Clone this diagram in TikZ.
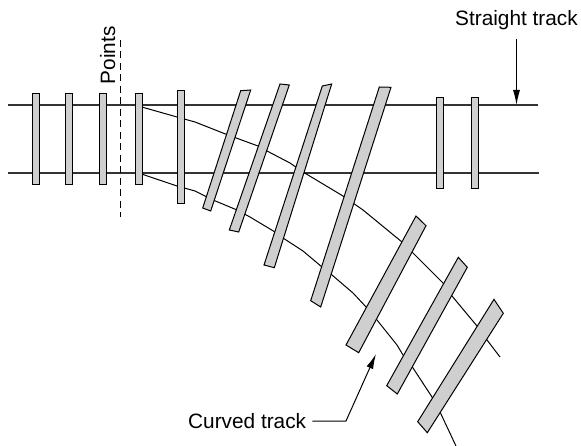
\documentclass[tikz,border=0pt]{standalone}
\usepackage{fontspec}
\setmainfont{Liberation Sans}
\usetikzlibrary{arrows.meta}
\tikzset{
  rail/.style={draw=black!80,line width=1.1pt},
  curverail/.style={draw=black,line width=1pt,line join=round},
  sleeper/.style={draw=black,fill=black!19,line width=1pt,line join=miter},
  lbl/.style={font=\fontsize{20.8pt}{24pt}\selectfont,inner sep=0pt,text=black},
  leader/.style={draw=black,line width=1pt,-{Latex[length=15pt,width=7pt]}}
}
\begin{document}
\begin{tikzpicture}[x=1pt,y=-1pt]
\useasboundingbox (0,0) rectangle (581,446);
% rails
\draw[rail] (8,105) -- (538,105);
\draw[rail] (8,173) -- (539,173);
\draw[curverail] (140,106.5) -- (177,117) -- (195,122) -- (228,135) -- (258,146) -- (267,151) -- (290,163) -- (303,172) -- (343,196) -- (363,210) -- (402,242) -- (412,252) -- (443,283) -- (452,296) -- (477,326) -- (487,340) -- (500,357);
\draw[curverail] (140,173.5) -- (177,186) -- (195,191) -- (213,200) -- (237,210) -- (250,217) -- (275,232) -- (283,238) -- (303,251) -- (322,267) -- (332,275) -- (353,293) -- (367,308) -- (377,320) -- (397,345) -- (403,355) -- (413,368) -- (432,397) -- (440,412) -- (456,446);
% straight sleepers
\draw[sleeper] (32.5,94) rectangle (39.5,185);
\draw[sleeper] (65.5,94) rectangle (72.5,185);
\draw[sleeper] (99.5,94) rectangle (106.5,185);
\draw[sleeper] (135.5,94) rectangle (142.5,185);
\draw[sleeper] (177.5,91) rectangle (184.5,204);
\draw[sleeper] (436.5,98) rectangle (443.5,189);
\draw[sleeper] (471.5,98) rectangle (478.5,189);
% slanted sleepers
\draw[sleeper] (240.7,90.7) -- (250.7,90) -- (210.7,211) -- (202.7,208) -- cycle;
\draw[sleeper] (280,84) -- (289.3,85) -- (238.7,232) -- (229.3,230) -- cycle;
\draw[sleeper] (322.3,86) -- (331.7,84) -- (274.3,267.7) -- (264,265) -- cycle;
\draw[sleeper] (379.3,87) -- (391,87.3) -- (320.7,307) -- (310.7,300.7) -- cycle;
\draw[sleeper] (416,216) -- (426,225.7) -- (358.7,352.7) -- (346,345) -- cycle;
\draw[sleeper] (458.3,257.3) -- (467.3,267.3) -- (397.3,394) -- (386.7,385.7) -- cycle;
\draw[sleeper] (494,299.3) -- (503.3,313.3) -- (427.3,432.7) -- (417.7,421.7) -- cycle;
% points
\draw[draw=black,line width=1pt,dash pattern=on 7pt off 4.5pt] (120.5,40) -- (120.5,217);
\node[lbl,rotate=90,anchor=base] (points) at (115,55.5) {Points};
% labels
\node[lbl,anchor=base west] (straight) at (455,26) {Straight track};
\node[lbl,anchor=base west] (curved) at (188,428) {Curved track};
\coordinate (stail) at (516.5,39);
\coordinate (stip) at (516.5,105);
\coordinate (celbow) at (346,421);
\coordinate (ctip) at (376,354);
\draw[leader] (stail) -- (stip);
\draw[leader] (curved.east |- celbow) ++(6,0) -- (celbow) -- (ctip);
\end{tikzpicture}
\end{document}
